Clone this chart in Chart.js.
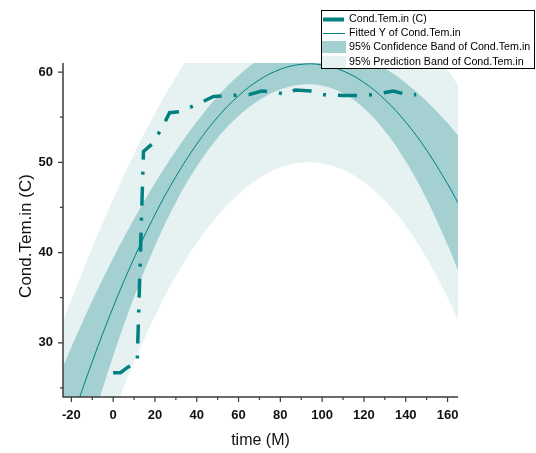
<!DOCTYPE html>
<html>
<head>
<meta charset="utf-8">
<script src="https://cdn.jsdelivr.net/npm/chart.js@4/dist/chart.umd.min.js"></script>
<style>
  html, body { margin: 0; padding: 0; background: #fff; }
  #wrap { position: relative; width: 536px; height: 453px; }
</style>
</head>
<body>
<div id="wrap"><canvas id="c" width="536" height="453"></canvas></div>
<script>
// ---- measured series: Cond.Tem.in (C) vs time (M)
const dataX = [0, 3.5, 7, 11.5, 14.5, 19, 24, 27, 32, 41, 48, 56, 65, 71, 79, 83, 87, 95, 100, 110, 118, 125, 134, 142, 145];
const dataY = [26.7, 26.7, 27.3, 27.8, 51.2, 52.1, 54.1, 55.5, 55.6, 56.5, 57.3, 57.4, 57.5, 57.9, 57.7, 57.5, 58.0, 57.9, 57.5, 57.4, 57.4, 57.5, 57.9, 57.4, 57.5];

// ---- fitted curve and bands at these times
const bandX   = [-24, -20, -10, 0, 10, 20, 30, 40, 50, 60, 70, 80, 90, 100, 110, 120, 130, 140, 150, 160, 165];
const fitY    = [18.43, 21.26, 27.91, 33.95, 39.38, 44.20, 48.41, 52.01, 55.00, 57.37, 59.14, 60.30, 60.85, 60.79, 60.12, 58.84, 56.95, 54.45, 51.34, 47.61, 45.52];
const confUp  = [27.34, 29.51, 34.65, 39.38, 43.72, 47.68, 51.27, 54.49, 57.30, 59.62, 61.38, 62.54, 63.10, 63.09, 62.60, 61.70, 60.43, 58.79, 56.77, 54.35, 52.99];
const confLo  = [9.52, 13.01, 21.17, 28.52, 35.04, 40.72, 45.55, 49.53, 52.70, 55.12, 56.90, 58.06, 58.60, 58.49, 57.64, 55.98, 53.47, 50.11, 45.91, 40.87, 38.05];
const predUp  = [32.33, 34.74, 40.52, 45.92, 50.89, 55.42, 59.45, 62.96, 65.91, 68.27, 70.03, 71.19, 71.75, 71.70, 71.07, 69.88, 68.17, 65.96, 63.31, 60.22, 58.54];
const predLo  = [4.53, 7.78, 15.30, 21.98, 27.87, 32.98, 37.37, 41.06, 44.09, 46.47, 48.25, 49.41, 49.95, 49.88, 49.17, 47.80, 45.73, 42.94, 39.37, 35.00, 32.50];

// ---- axes
const xTicks = [-20, 0, 20, 40, 60, 80, 100, 120, 140, 160];
const xMinor = [-10, 10, 30, 50, 70, 90, 110, 130, 150];
const yTicks = [30, 40, 50, 60];
const yMinor = [25, 35, 45, 55];
const xRange = [-24, 165];
const yRange = [24, 61];

const legendLabels = ['Cond.Tem.in (C)', 'Fitted Y of Cond.Tem.in', '95% Confidence Band of Cond.Tem.in', '95% Prediction Band of Cond.Tem.in'];
const xTitle = 'time (M)';
const yTitle = 'Cond.Tem.in (C)';

const TEAL = '#008080';
const DARK = '#A4D0D1';
const LIGHT = '#E6F2F2';

const pts = (xs, ys) => xs.map((x, i) => ({ x: x, y: ys[i] }));

const decor = {
  id: 'decor',
  afterDraw(chart) {
    const ctx = chart.ctx;
    const a = chart.chartArea;
    const xs = chart.scales.x, ys = chart.scales.y;
    ctx.save();
    // axis lines
    ctx.strokeStyle = '#3a3a3a';
    ctx.lineWidth = 1.5;
    ctx.beginPath();
    ctx.moveTo(a.left, a.top);
    ctx.lineTo(a.left, a.bottom + 0.75);
    ctx.moveTo(a.left - 0.75, a.bottom);
    ctx.lineTo(a.right, a.bottom);
    ctx.stroke();
    // ticks
    ctx.lineWidth = 1.2;
    ctx.beginPath();
    xTicks.forEach(v => { const p = xs.getPixelForValue(v); ctx.moveTo(p, a.bottom); ctx.lineTo(p, a.bottom + 5); });
    xMinor.forEach(v => { const p = xs.getPixelForValue(v); ctx.moveTo(p, a.bottom); ctx.lineTo(p, a.bottom + 3); });
    yTicks.forEach(v => { const p = ys.getPixelForValue(v); ctx.moveTo(a.left, p); ctx.lineTo(a.left - 5, p); });
    yMinor.forEach(v => { const p = ys.getPixelForValue(v); ctx.moveTo(a.left, p); ctx.lineTo(a.left - 3, p); });
    ctx.stroke();
    // axis titles
    ctx.fillStyle = '#111';
    ctx.font = '16px "Liberation Sans", Arial, sans-serif';
    ctx.textAlign = 'center';
    ctx.textBaseline = 'middle';
    ctx.fillText(xTitle, (a.left + a.right) / 2, 441);
    ctx.save();
    ctx.translate(26, (ys.getPixelForValue(yRange[0]) + ys.getPixelForValue(yRange[1])) / 2 + 6);
    ctx.rotate(-Math.PI / 2);
    ctx.font = '17px "Liberation Sans", Arial, sans-serif';
    ctx.fillText(yTitle, 0, 0);
    ctx.restore();
    // legend box
    const L = 321, T = 10, R = 535, B = 69;
    ctx.fillStyle = '#fff';
    ctx.fillRect(L, T, R - L, B - T);
    ctx.strokeStyle = '#000';
    ctx.lineWidth = 1;
    ctx.strokeRect(L + 0.5, T + 0.5, R - L - 1, B - T - 1);
    const rows = [19.5, 33.5, 47, 62];
    ctx.strokeStyle = TEAL;
    ctx.lineWidth = 4;
    ctx.beginPath(); ctx.moveTo(323, rows[0]); ctx.lineTo(344, rows[0]); ctx.stroke();
    ctx.lineWidth = 1;
    ctx.beginPath(); ctx.moveTo(323, rows[1]); ctx.lineTo(345, rows[1]); ctx.stroke();
    ctx.fillStyle = DARK; ctx.fillRect(322, 41, 24, 12);
    ctx.fillStyle = LIGHT; ctx.fillRect(322, 56, 24, 12);
    ctx.fillStyle = '#000';
    ctx.font = '10.7px "Liberation Sans", Arial, sans-serif';
    ctx.textAlign = 'left';
    ctx.textBaseline = 'middle';
    legendLabels.forEach((t, i) => ctx.fillText(t, 349, rows[i]));
    ctx.restore();
  }
};

new Chart(document.getElementById('c'), {
  type: 'line',
  data: {
    datasets: [
      { label: legendLabels[0], data: pts(dataX, dataY), borderColor: TEAL, borderWidth: 3.5,
        borderDash: [19, 12, 3, 12], borderCapStyle: 'butt', pointRadius: 0, tension: 0, fill: false, order: 0 },
      { label: legendLabels[1], data: pts(bandX, fitY), borderColor: TEAL, borderWidth: 1,
        pointRadius: 0, tension: 0.4, fill: false, order: 1 },
      { label: 'cu', data: pts(bandX, confUp), borderWidth: 0, borderColor: 'rgba(0,0,0,0)', backgroundColor: DARK,
        pointRadius: 0, tension: 0.4, fill: '+1', order: 2 },
      { label: 'cl', data: pts(bandX, confLo), borderWidth: 0, borderColor: 'rgba(0,0,0,0)',
        pointRadius: 0, tension: 0.4, fill: false, order: 2 },
      { label: 'pu', data: pts(bandX, predUp), borderWidth: 0, borderColor: 'rgba(0,0,0,0)', backgroundColor: LIGHT,
        pointRadius: 0, tension: 0.4, fill: '+1', order: 3 },
      { label: 'pl', data: pts(bandX, predLo), borderWidth: 0, borderColor: 'rgba(0,0,0,0)',
        pointRadius: 0, tension: 0.4, fill: false, order: 3 }
    ]
  },
  options: {
    responsive: false,
    animation: false,
    events: [],
    layout: { padding: { left: 0, right: 78, top: 63, bottom: 0 } },
    plugins: { legend: { display: false }, tooltip: { enabled: false }, title: { display: false } },
    scales: {
      x: {
        type: 'linear', min: xRange[0], max: xRange[1],
        grid: { display: false, drawTicks: false }, border: { display: false },
        afterBuildTicks: s => { s.ticks = xTicks.map(v => ({ value: v })); },
        afterFit: s => { s.height = 56; },
        ticks: { padding: 11, color: '#111', font: { family: '"Liberation Sans", Arial, sans-serif', size: 13, weight: 'bold' },
                 maxRotation: 0, autoSkip: false }
      },
      y: {
        type: 'linear', min: yRange[0], max: yRange[1],
        grid: { display: false, drawTicks: false }, border: { display: false },
        afterBuildTicks: s => { s.ticks = yTicks.map(v => ({ value: v })); },
        afterFit: s => { s.width = 63; },
        ticks: { padding: 10, color: '#111', font: { family: '"Liberation Sans", Arial, sans-serif', size: 13, weight: 'bold' } }
      }
    }
  },
  plugins: [decor]
});
</script>
</body>
</html>
